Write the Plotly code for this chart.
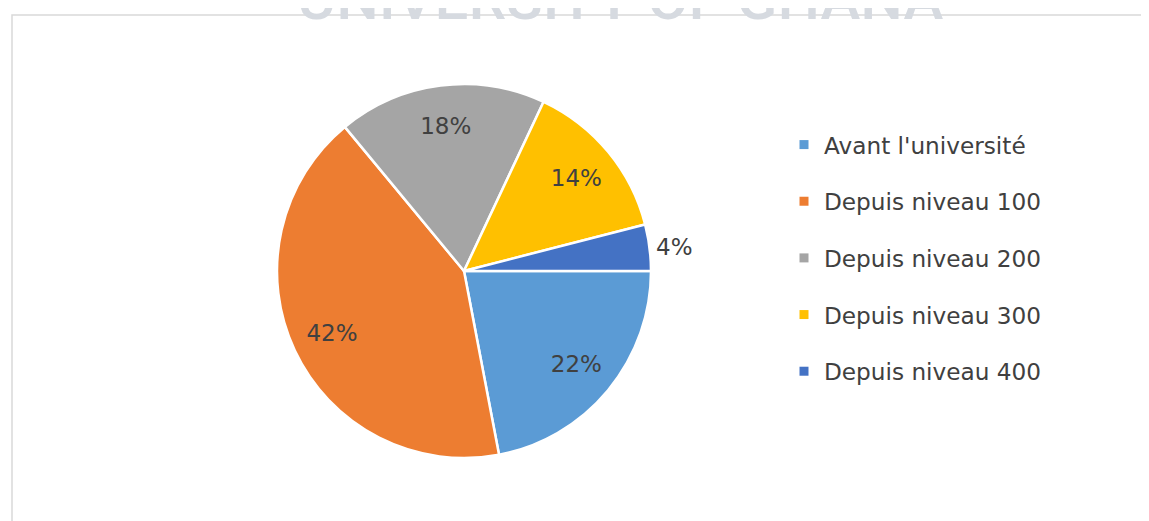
import plotly.graph_objects as go

categories = ["Avant l'université", "Depuis niveau 100", "Depuis niveau 200",
              "Depuis niveau 300", "Depuis niveau 400"]
values = [22, 42, 18, 14, 4]
colors = ["#5B9BD5", "#ED7D31", "#A5A5A5", "#FFC000", "#4472C4"]
text_positions = ["inside", "inside", "inside", "inside", "outside"]

W, H = 1149, 521
OFF = 8  # page body margin
FONT = "DejaVu Sans"
TXT = "#404040"

CX, CY, R = 464 - OFF, 271 - OFF, 187
dom = dict(x=[(CX - R) / W, (CX + R) / W],
           y=[1 - (CY + R) / H, 1 - (CY - R) / H])

fig = go.Figure()
# the pie itself
fig.add_trace(go.Pie(
    labels=categories, values=values, sort=False, direction="clockwise",
    rotation=90,
    marker=dict(colors=colors, line=dict(color="white", width=2.5)),
    textinfo="none", showlegend=False, domain=dom,
    hoverinfo="label+percent",
))
# transparent ring carrying the percentage labels (puts them at ~0.78 r)
fig.add_trace(go.Pie(
    labels=categories, values=values, sort=False, direction="clockwise",
    rotation=90, hole=0.56,
    marker=dict(colors=["rgba(0,0,0,0)"] * len(values),
                line=dict(color="rgba(0,0,0,0)", width=0)),
    texttemplate="%{percent:.0%}", textposition=text_positions,
    insidetextorientation="horizontal",
    textfont=dict(family=FONT, size=23, color=TXT),
    showlegend=False, domain=dom, hoverinfo="skip",
))

# legend entries (one group each so the spacing can match)
for i, (c, col) in enumerate(zip(categories, colors)):
    fig.add_trace(go.Scatter(
        x=[None], y=[None], mode="markers", name=c,
        marker=dict(symbol="square", size=9, color=col),
        legendgroup=f"g{i}", showlegend=True,
    ))

fig.update_layout(
    width=W, height=H,
    margin=dict(l=0, r=0, t=0, b=0),
    paper_bgcolor="white", plot_bgcolor="white",
    xaxis=dict(visible=False), yaxis=dict(visible=False),
    legend=dict(x=(784 - OFF) / W, xanchor="left", y=1 - (258 - OFF) / H,
                yanchor="middle",
                font=dict(family=FONT, size=23.2, color=TXT),
                tracegroupgap=23.5, bgcolor="rgba(0,0,0,0)"),
    shapes=[dict(type="rect", xref="paper", yref="paper",
                 x0=(12 - OFF) / W, x1=1.02, y0=-0.02, y1=1 - (15 - OFF) / H,
                 line=dict(color="#D9D9D9", width=1.5), fillcolor="rgba(0,0,0,0)",
                 layer="below")],
    annotations=[dict(text="UNIVERSITY OF GHANA", xref="paper", yref="paper",
                      x=(620 - OFF) / W, y=1 - (29 + 7 - OFF) / H,
                      xanchor="center", yanchor="bottom", showarrow=False,
                      font=dict(family="Roboto", size=60, weight=500,
                                color="#D6DAE0"))],
)

fig.write_html("out.html")
